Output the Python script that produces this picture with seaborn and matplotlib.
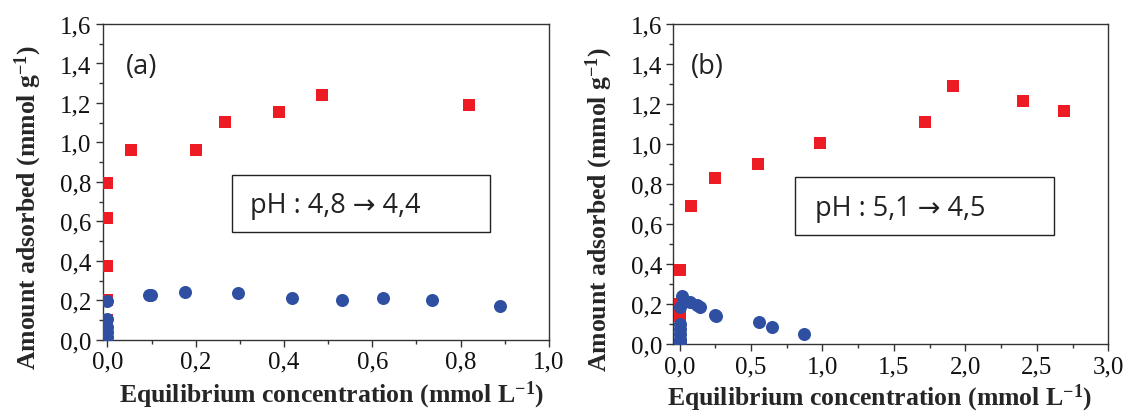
import pandas as pd
import matplotlib.pyplot as plt
from matplotlib.ticker import MultipleLocator, FuncFormatter
import seaborn as sns

# panel (a): red squares and blue circles
a_red_x = [0.0, 0.0, 0.0, 0.0, 0.0, 0.054, 0.200, 0.266, 0.388, 0.485, 0.820]
a_red_y = [0.795, 0.617, 0.373, 0.203, 0.10, 0.964, 0.959, 1.103, 1.154, 1.241, 1.190]
a_blue_x = [0.0, 0.0, 0.0, 0.0, 0.0, 0.094, 0.099, 0.176, 0.296, 0.418, 0.532, 0.624, 0.736, 0.888]
a_blue_y = [0.197, 0.105, 0.063, 0.037, 0.012, 0.225, 0.225, 0.244, 0.239, 0.210, 0.203, 0.210, 0.202, 0.169]

# panel (b)
b_red_x = [0.0, 0.0, 0.0, 0.079, 0.245, 0.551, 0.986, 1.717, 1.911, 2.400, 2.687]
b_red_y = [0.368, 0.20, 0.14, 0.691, 0.831, 0.900, 1.007, 1.110, 1.289, 1.214, 1.167]
b_blue_x = [0.0, 0.0, 0.0, 0.0, 0.0, 0.0, 0.019, 0.072, 0.125, 0.140, 0.245, 0.252, 0.556, 0.647, 0.871]
b_blue_y = [0.184, 0.10, 0.075, 0.05, 0.025, 0.008, 0.239, 0.212, 0.195, 0.186, 0.145, 0.140, 0.109, 0.084, 0.050]

ph_texts = ["pH : 4,8 \u2192 4,4", "pH : 5,1 \u2192 4,5"]
panel_tags = ["(a)", "(b)"]

RED = "#ED1C24"
BLUE = "#2F50A2"

sns.set_style("ticks")
plt.rcParams['font.family'] = ['Liberation Serif', 'DejaVu Serif']
plt.rcParams['mathtext.fontset'] = 'custom'
plt.rcParams['mathtext.rm'] = 'Liberation Serif:bold'
plt.rcParams['mathtext.bf'] = 'Liberation Serif:bold'
plt.rcParams['mathtext.it'] = 'Liberation Serif:bold'


def make_df(rx, ry, bx, by):
    red = pd.DataFrame({"conc": rx, "ads": ry, "series": "red"})
    blue = pd.DataFrame({"conc": bx, "ads": by, "series": "blue"})
    return red, blue


fig = plt.figure(figsize=(11.24, 4.14), dpi=100)
ax_a = fig.add_axes([0.0914, 0.177, 0.397, 0.7626])
ax_b = fig.add_axes([0.599, 0.1667, 0.387, 0.7729])

comma = FuncFormatter(lambda v, p: f"{v:.1f}".replace(".", ","))

setups = [
    (ax_a, make_df(a_red_x, a_red_y, a_blue_x, a_blue_y), (-0.0106, 1.0), 0.2, 0.1,
     (231.7, 176, 258.3, 57.3), (250, 206), (126, 67), (28, 208), (332, 395)),
    (ax_b, make_df(b_red_x, b_red_y, b_blue_x, b_blue_y), (-0.044, 3.0), 0.5, 0.25,
     (795, 178.3, 259, 57.7), (815, 209), (691, 67), (599, 210), (880, 398)),
]

for i, (ax, (red, blue), xlim, xmaj, xmin, box, txt, tag, ylab, xlab) in enumerate(setups):
    sns.scatterplot(data=red, x="conc", y="ads", ax=ax, marker="s", color=RED,
                    s=78, linewidth=0, zorder=3)
    sns.scatterplot(data=blue, x="conc", y="ads", ax=ax, marker="o", color=BLUE,
                    s=88, linewidth=0, zorder=4)
    ax.set_xlim(*xlim)
    ax.set_ylim(0, 1.6)
    ax.xaxis.set_major_locator(MultipleLocator(xmaj))
    ax.xaxis.set_minor_locator(MultipleLocator(xmin))
    ax.yaxis.set_major_locator(MultipleLocator(0.2))
    ax.yaxis.set_minor_locator(MultipleLocator(0.1))
    ax.xaxis.set_major_formatter(comma)
    ax.yaxis.set_major_formatter(comma)
    ax.tick_params(which="major", direction="out", length=5, width=1, labelsize=18,
                   color="#333333", labelcolor="#111111", pad=3)
    ax.tick_params(which="minor", direction="out", length=3, width=1, color="#333333")
    for sp in ax.spines.values():
        sp.set_visible(True)
        sp.set_linewidth(1.0)
        sp.set_color("#333333")
    ax.set_xlabel("")
    ax.set_ylabel("")

    # pH box (pixel coords converted to figure fraction)
    bx0, by0, bw, bh = box
    rect = plt.Rectangle((bx0 / 1124, 1 - (by0 + bh) / 414), bw / 1124, bh / 414,
                         transform=fig.transFigure, fill=False, edgecolor="#222222",
                         linewidth=1.0)
    fig.add_artist(rect)
    fig.text(txt[0] / 1124, 1 - txt[1] / 414, ph_texts[i], ha="left", va="center",
             fontsize=19.5, family=["Open Sans", "DejaVu Sans"], color="#222222")
    fig.text(tag[0] / 1124, 1 - tag[1] / 414, panel_tags[i], ha="left", va="center",
             fontsize=19.5, family=["Open Sans", "DejaVu Sans"], color="#222222")
    fig.text(ylab[0] / 1124, 1 - ylab[1] / 414, "Amount adsorbed (mmol g$^{-1}$)",
             rotation=90, ha="center", va="center", fontsize=18.5, fontweight="bold")
    fig.text(xlab[0] / 1124, 1 - xlab[1] / 414, "Equilibrium concentration (mmol L$^{-1}$)",
             ha="center", va="center", fontsize=18.5, fontweight="bold")

fig.savefig("out.png", dpi=100)
